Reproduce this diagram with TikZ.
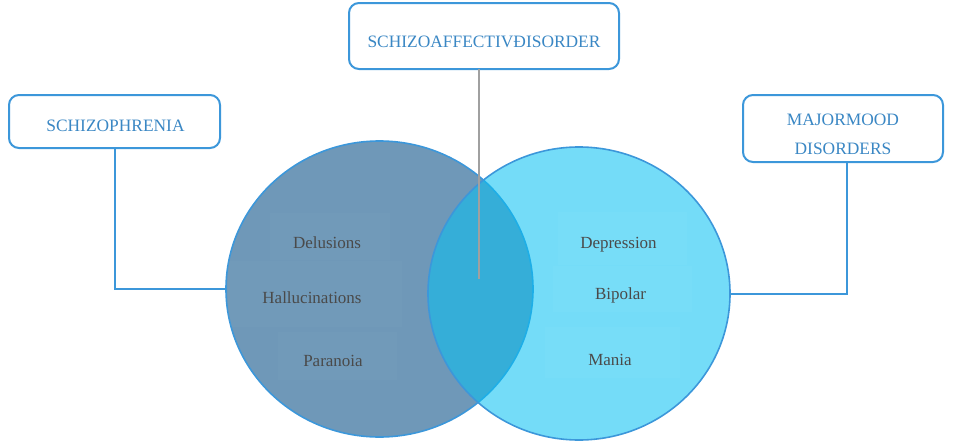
\documentclass[tikz,border=0pt]{standalone}
\usepackage{fontspec}
\setmainfont{Liberation Serif}
\usetikzlibrary{shapes.geometric}
\definecolor{edgeblue}{HTML}{3C97DA}
\definecolor{labelblue}{HTML}{3A87C4}
\definecolor{leftfill}{HTML}{6F98B8}
\definecolor{rightfill}{RGB}{8,193,242}
\definecolor{itemtext}{HTML}{4A4A4A}
\definecolor{leadergray}{HTML}{A0A0A0}
\begin{document}
\begin{tikzpicture}[x=1pt,y=-1pt,
  titlebox/.style={draw=edgeblue, line width=2pt, rounded corners=10pt, fill=white, inner sep=0pt, outer sep=0pt},
  titletext/.style={text=labelblue, font=\fontsize{17.4}{29}\selectfont, anchor=base, inner sep=0pt, align=center},
  itemlabel/.style={text=itemtext, font=\fontsize{17}{20}\selectfont, anchor=base, inner sep=0pt},
  conn/.style={draw=edgeblue, line width=2pt},
  leaderline/.style={draw=leadergray, line width=2pt},
  setcircle/.style={ellipse, draw=edgeblue, line width=1.6pt, inner sep=0pt, outer sep=0pt},
  faint/.style={fill=white, fill opacity=0.02}]
\useasboundingbox (0,0) rectangle (953,447);

% circles
\node[setcircle, fill=leftfill, minimum width=307pt, minimum height=296pt] (left) at (379.5,289) {};
\node[setcircle, fill=rightfill, fill opacity=0.5625, draw opacity=1, minimum width=302pt, minimum height=293pt] (right) at (579,293.5) {};

% faint label panels
\fill[faint] (270,213) rectangle (390,260);
\fill[faint] (228,261) rectangle (402,327);
\fill[faint] (278,332) rectangle (397,380);
\fill[faint] (558,212) rectangle (687,265);
\fill[faint] (553,266) rectangle (692,312);
\fill[faint] (545,327) rectangle (680,378);

% items
\node[itemlabel] (delusions) at (327,248.6) {Delusions};
\node[itemlabel] (halluc) at (312,303.6) {Hallucinations};
\node[itemlabel] (paranoia) at (333,366.6) {Paranoia};
\node[itemlabel] (depression) at (618.5,248.6) {Depression};
\node[itemlabel] (bipolar) at (620.5,299.6) {Bipolar};
\node[itemlabel] (mania) at (610,365.6) {Mania};

% title boxes
\node[titlebox, minimum width=270pt, minimum height=66pt] (sad) at (484,36) {};
\node[titlebox, minimum width=211pt, minimum height=53pt] (schizo) at (114.5,121.5) {};
\node[titlebox, minimum width=200pt, minimum height=67pt] (mood) at (843,128.5) {};

\node[titletext] (sadtext) at (484,47.6) {SCHIZOAFFECTIVĐISORDER};
\node[titletext] (schizotext) at (115.5,131.6) {SCHIZOPHRENIA};
\node[titletext, anchor=north] (moodtext) at (843,113.5) {MAJORMOOD\\DISORDERS};

% connectors
\coordinate (sadend) at (479,279);
\draw[leaderline] ([xshift=-5pt]sad.south) -- (sadend);
\draw[conn] (schizo.south) |- (left.west);
\draw[conn] ([xshift=4pt]mood.south) |- (right.east);
\end{tikzpicture}
\end{document}
